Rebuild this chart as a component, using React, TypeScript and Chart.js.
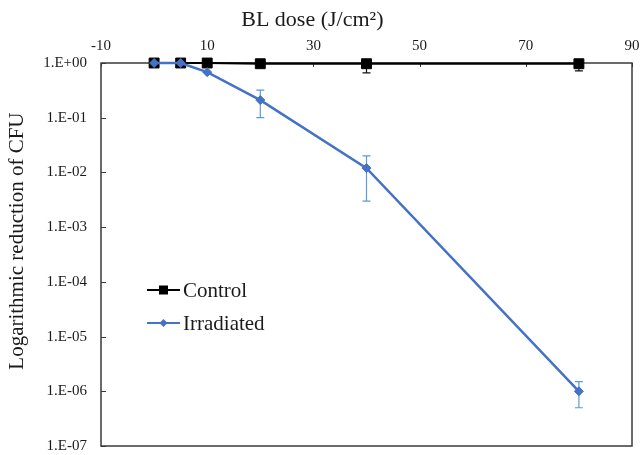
import React, { useEffect, useRef } from 'react';
import { Chart, registerables } from 'chart.js';

Chart.register(...registerables);

// ---- data ----
const doses = [0, 5, 10, 20, 40, 80];
const controlValues = [1, 1, 1, 0.97, 0.97, 0.97];
const controlErrLow = [1, 1, 1, 0.86, 0.66, 0.72];
const controlErrHigh = [1, 1, 1, 0.97, 0.97, 0.97];
const irradiatedValues = [1, 1, 0.68, 0.21, 0.012, 1e-6];
const irradiatedErrLow = [1, 1, 0.68, 0.1, 0.003, 5e-7];
const irradiatedErrHigh = [1, 1, 0.68, 0.32, 0.02, 1.5e-6];
const xTickValues = [-10, 10, 30, 50, 70, 90];
const yTickValues = [1, 1e-1, 1e-2, 1e-3, 1e-4, 1e-5, 1e-6, 1e-7];
const seriesNames = ['Control', 'Irradiated'];
const xTitle = 'BL dose (J/cm\u00B2)';
const yTitle = 'Logarithmic reduction of CFU';

const SERIF = '"Liberation Serif", "Times New Roman", serif';
const TEXT = '#1a1a1a';
const BLUE = '#4472C4';
const ERR_BLUE = '#5B9BD5';

function fmtExp(v: number): string {
  const e = Math.round(Math.log10(v));
  const sign = e >= 0 ? '+' : '-';
  return '1.E' + sign + String(Math.abs(e)).padStart(2, '0');
}

const framePlugin = {
  id: 'frameAndBars',
  beforeDatasetsDraw(chart: any) {
    const { ctx, chartArea: a, scales } = chart;
    const xs = scales.x;
    const ys = scales.y;
    ctx.save();
    // frame
    ctx.strokeStyle = '#3a3a3a';
    ctx.lineWidth = 1.5;
    ctx.strokeRect(a.left, a.top, a.right - a.left, a.bottom - a.top);
    // inward ticks
    ctx.lineWidth = 1;
    ctx.beginPath();
    yTickValues.forEach((v) => {
      const y = Math.round(ys.getPixelForValue(v)) + 0.5;
      ctx.moveTo(a.left, y);
      ctx.lineTo(a.left + 5, y);
    });
    xTickValues.forEach((v) => {
      const x = Math.round(xs.getPixelForValue(v)) + 0.5;
      ctx.moveTo(x, a.top);
      ctx.lineTo(x, a.top + 4);
    });
    ctx.stroke();
    // error bars
    const drawErr = (lo: number[], hi: number[], color: string) => {
      ctx.strokeStyle = color;
      ctx.lineWidth = 1.2;
      doses.forEach((d, i) => {
        const x = xs.getPixelForValue(d);
        const y1 = ys.getPixelForValue(hi[i]);
        const y2 = ys.getPixelForValue(lo[i]);
        if (Math.abs(y2 - y1) < 2) return;
        ctx.beginPath();
        ctx.moveTo(x, y1);
        ctx.lineTo(x, y2);
        ctx.moveTo(x - 4, y1);
        ctx.lineTo(x + 4, y1);
        ctx.moveTo(x - 4, y2);
        ctx.lineTo(x + 4, y2);
        ctx.stroke();
      });
    };
    drawErr(controlErrLow, controlErrHigh, '#111');
    drawErr(irradiatedErrLow, irradiatedErrHigh, ERR_BLUE);
    ctx.restore();
  },
  afterDraw(chart: any) {
    const { ctx, chartArea: a } = chart;
    ctx.save();
    ctx.fillStyle = TEXT;
    // x title
    ctx.font = '22px ' + SERIF;
    ctx.textAlign = 'center';
    ctx.textBaseline = 'middle';
    ctx.fillText(xTitle, a.left + (a.right - a.left) * 0.398, 20);
    // y title
    ctx.save();
    ctx.translate(17, a.top + (a.bottom - a.top) * 0.465);
    ctx.rotate(-Math.PI / 2);
    ctx.font = '21px ' + SERIF;
    ctx.fillText(yTitle, 0, 0);
    ctx.restore();
    // legend
    const lx = a.left + 46;
    const rows = [
      { name: seriesNames[0], color: '#000', y: a.top + 227, marker: 'rect' },
      { name: seriesNames[1], color: BLUE, y: a.top + 260, marker: 'diamond' },
    ];
    rows.forEach((r) => {
      ctx.strokeStyle = r.color;
      ctx.fillStyle = r.color;
      ctx.lineWidth = 2.2;
      ctx.beginPath();
      ctx.moveTo(lx, r.y);
      ctx.lineTo(lx + 33, r.y);
      ctx.stroke();
      const cx = lx + 16.5;
      ctx.beginPath();
      if (r.marker === 'rect') {
        ctx.rect(cx - 4.5, r.y - 4.5, 9, 9);
      } else {
        ctx.moveTo(cx, r.y - 4);
        ctx.lineTo(cx + 4, r.y);
        ctx.lineTo(cx, r.y + 4);
        ctx.lineTo(cx - 4, r.y);
        ctx.closePath();
      }
      ctx.fill();
      ctx.fillStyle = TEXT;
      ctx.font = '21px ' + SERIF;
      ctx.textAlign = 'left';
      ctx.textBaseline = 'middle';
      ctx.fillText(r.name, lx + 36, r.y + 1);
    });
    ctx.restore();
  },
};

const noPad = (s: any) => {
  s.paddingLeft = 0;
  s.paddingRight = 0;
  s.paddingTop = 0;
  s.paddingBottom = 0;
};

export default function App() {
  const ref = useRef<HTMLCanvasElement | null>(null);
  useEffect(() => {
    if (!ref.current) return;
    const chart = new Chart(ref.current, {
      type: 'line',
      data: {
        datasets: [
          {
            label: seriesNames[1],
            data: doses.map((d, i) => ({ x: d, y: irradiatedValues[i] })),
            borderColor: BLUE,
            backgroundColor: BLUE,
            borderWidth: 2.5,
            pointStyle: 'rectRot',
            pointRadius: 4.5,
            pointBorderWidth: 1,
            tension: 0,
            clip: false as any,
            order: 0,
          },
          {
            label: seriesNames[0],
            data: doses.map((d, i) => ({ x: d, y: controlValues[i] })),
            borderColor: '#000',
            backgroundColor: '#000',
            borderWidth: 2.2,
            pointStyle: 'rect',
            pointRadius: 7,
            pointBorderWidth: 1,
            tension: 0,
            clip: false as any,
            order: 1,
          },
        ],
      },
      options: {
        animation: false,
        responsive: false,
        maintainAspectRatio: false,
        layout: { padding: { left: 0, top: 0, right: 8, bottom: 9 } },
        plugins: {
          legend: { display: false },
          tooltip: { enabled: false },
          title: { display: false },
        },
        scales: {
          x: {
            type: 'linear',
            position: 'top',
            min: -10,
            max: 90,
            afterBuildTicks: (s: any) => {
              s.ticks = xTickValues.map((v) => ({ value: v }));
            },
            afterFit: (s: any) => {
              s.height = 63;
              noPad(s);
            },
            grid: { display: false, drawTicks: false },
            border: { display: false },
            ticks: {
              padding: 8,
              color: TEXT,
              font: { family: SERIF, size: 15 },
              maxRotation: 0,
              autoSkip: false,
            },
          },
          y: {
            type: 'logarithmic',
            position: 'left',
            min: 1e-7,
            max: 1,
            afterBuildTicks: (s: any) => {
              s.ticks = yTickValues.map((v) => ({ value: v }));
            },
            afterFit: (s: any) => {
              s.width = 101;
              noPad(s);
            },
            grid: { display: false, drawTicks: false },
            border: { display: false },
            ticks: {
              padding: 14,
              color: TEXT,
              font: { family: SERIF, size: 15 },
              autoSkip: false,
              callback: (v: any) => fmtExp(Number(v)),
            },
          },
        },
      },
      plugins: [framePlugin],
    } as any);
    return () => chart.destroy();
  }, []);
  return (
    <div style={{ position: 'absolute', left: 0, top: 0, width: 640, height: 455, background: '#fff' }}>
      <canvas ref={ref} width={640} height={455} style={{ display: 'block' }} />
    </div>
  );
}
